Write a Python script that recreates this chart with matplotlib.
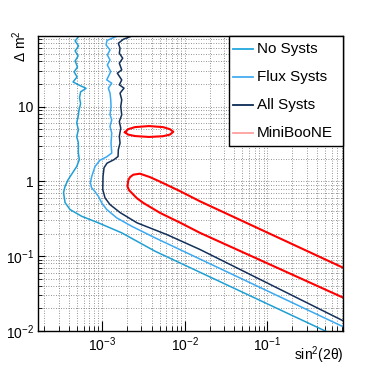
import matplotlib
matplotlib.use("Agg")
import matplotlib.pyplot as plt
from matplotlib.ticker import LogLocator, FuncFormatter, NullFormatter
from matplotlib.patches import Rectangle
import numpy as np

plt.rcParams['font.family'] = ['Liberation Sans', 'DejaVu Sans']
plt.rcParams['mathtext.fontset'] = 'custom'
plt.rcParams['mathtext.rm'] = 'Liberation Sans'
plt.rcParams['mathtext.it'] = 'Liberation Sans:italic'

# sensitivity contours (sin^2 2theta, dm^2)
nosys_x = [5.27e-4, 4.72e-4, 5.20e-4, 4.72e-4, 5.13e-4, 4.72e-4, 5.05e-4, 4.59e-4, 4.99e-4, 4.46e-4,
           5.34e-4, 6.41e-4, 5.50e-4, 5.34e-4, 5.50e-4, 5.27e-4, 5.13e-4, 4.94e-4, 5.17e-4, 4.94e-4,
           5.17e-4, 5.17e-4, 5.31e-4, 4.94e-4, 4.34e-4, 3.88e-4, 3.57e-4, 3.42e-4, 3.57e-4, 4.10e-4,
           5.68e-4, 9.02e-4, 1.73e-3, 4.37e-3, 0.457, 0.789]
nosys_y = [87.7, 75.2, 64.4, 55.3, 47.4, 40.6, 33.8, 29.0, 24.9, 21.3,
           19.2, 17.5, 15.7, 13.1, 10.9, 9.04, 7.29, 6.06, 4.89, 3.95,
           3.28, 2.41, 1.95, 1.58, 1.27, 1.05, 0.858, 0.707, 0.520, 0.420,
           0.341, 0.279, 0.205, 0.1166, 0.0105, 0.00794]

flux_x = [1.745e-3, 1.149e-3, 1.118e-3, 1.249e-3, 1.159e-3, 1.249e-3, 1.159e-3, 1.274e-3, 1.140e-3, 1.310e-3,
          1.192e-3, 1.249e-3, 1.274e-3, 1.285e-3, 1.249e-3, 1.310e-3, 1.249e-3, 1.310e-3, 1.285e-3, 1.310e-3,
          1.140e-3, 9.46e-4, 8.23e-4, 7.51e-4, 7.22e-4, 7.46e-4, 8.23e-4, 9.07e-4, 9.92e-4, 1.140e-3,
          1.506e-3, 2.286e-3, 4.37e-3, 0.791, 0.998]
flux_y = [93.2, 76.4, 66.5, 57.0, 48.9, 41.9, 35.9, 29.3, 22.7, 20.5,
          17.6, 15.1, 12.3, 10.0, 7.75, 6.65, 5.41, 4.42, 3.25, 2.39,
          2.13, 1.92, 1.58, 1.166, 0.961, 0.824, 0.729, 0.625, 0.515, 0.420,
          0.325, 0.251, 0.176, 0.01167, 0.01035]

all_x = [2.577e-3, 1.810e-3, 1.575e-3, 1.651e-3, 1.619e-3, 1.779e-3, 1.619e-3, 1.731e-3, 1.531e-3, 1.731e-3,
         1.619e-3, 1.845e-3, 1.651e-3, 1.731e-3, 1.684e-3, 1.731e-3, 1.619e-3, 1.684e-3, 1.619e-3, 1.651e-3,
         1.575e-3, 1.562e-3, 1.397e-3, 1.149e-3, 1.057e-3, 1.028e-3, 1.020e-3, 1.087e-3, 1.249e-3, 1.651e-3,
         2.650e-3, 6.06e-3, 1.531e-2, 0.791, 0.998]
all_y = [91.8, 79.2, 70.0, 60.1, 51.5, 44.2, 37.9, 30.9, 27.9, 22.7,
         19.5, 17.6, 15.1, 12.3, 10.0, 7.75, 6.31, 5.15, 3.98, 3.25,
         2.65, 2.15, 1.95, 1.75, 1.52, 1.166, 0.775, 0.601, 0.489, 0.383,
         0.279, 0.1946, 0.1228, 0.01402, 0.01228]

# MiniBooNE allowed regions
mb_x = [0.997, 0.828, 1.531e-2, 8.77e-3, 5.03e-3, 3.81e-3, 2.88e-3, 2.39e-3, 2.18e-3, 2.08e-3,
        2.03e-3, 2.12e-3, 2.286e-3, 2.65e-3, 3.16e-3, 5.03e-3, 8.77e-3, 1.531e-2, 0.828, 0.997]
mb_y = [0.0637, 0.0700, 0.541, 0.740, 0.991, 1.138, 1.266, 1.228, 1.138, 1.038,
        0.858, 0.763, 0.700, 0.593, 0.515, 0.379, 0.281, 0.205, 0.0279, 0.0254]

island_x = [1.897e-3, 2.063e-3, 2.506e-3, 3.70e-3, 5.47e-3, 6.64e-3, 7.28e-3, 6.64e-3, 5.47e-3, 3.70e-3,
            2.506e-3, 2.063e-3, 1.897e-3]
island_y = [4.53, 4.97, 5.31, 5.48, 5.31, 4.97, 4.60, 4.22, 4.01, 3.92, 4.03, 4.22, 4.53]

labels = ["No Systs", "Flux Systs", "All Systs", "MiniBooNE"]
colors = ["#1f9fd5", "#3aa9f2", "#12305a", "#ff0000"]
legend_colors = ["#22a8dc", "#44aef0", "#0c2a55", "#ff9f9f"]

fig = plt.figure(figsize=(3.82, 3.67), dpi=100)
ax = fig.add_axes([0.0995, 0.0981, 0.7992, 0.8038])
ax.set_xscale('log')
ax.set_yscale('log')
ax.set_xlim(1.68e-4, 0.83)
ax.set_ylim(0.01, 87.6)

ax.plot(nosys_x, nosys_y, color=colors[0], lw=1.1)
ax.plot(flux_x, flux_y, color=colors[1], lw=1.1)
ax.plot(all_x, all_y, color=colors[2], lw=1.1)
ax.plot(mb_x, mb_y, color=colors[3], lw=1.5)
ax.plot(island_x, island_y, color=colors[3], lw=1.5)


def root_fmt(v, pos):
    e = int(round(np.log10(v)))
    if e == 0:
        return "1"
    if e == 1:
        return "10"
    return r"$10^{%d}$" % e


for axis in (ax.xaxis, ax.yaxis):
    axis.set_major_locator(LogLocator(base=10))
    axis.set_minor_locator(LogLocator(base=10, subs=np.arange(2, 10)))
    axis.set_major_formatter(FuncFormatter(root_fmt))
    axis.set_minor_formatter(NullFormatter())

ax.grid(which='both', linestyle=(0, (1, 2)), color='#707070', linewidth=0.6)
ax.tick_params(which='both', direction='in', top=False, right=False, labelsize=10, pad=3)
ax.tick_params(axis='x', which='major', length=7)
ax.tick_params(axis='x', which='minor', length=3.5)
ax.tick_params(axis='y', which='major', length=5)
ax.tick_params(axis='y', which='minor', length=3)
for s in ax.spines.values():
    s.set_linewidth(1.0)

ax.set_xlabel(r"sin$^{2}$(2θ)", loc='right', fontsize=10)
ax.xaxis.set_label_coords(1.0, -0.045)
ax.set_ylabel(r"Δ m$^{2}$", loc='top', fontsize=10)
ax.yaxis.set_label_coords(-0.03, 1.02)

# legend box
ax.add_patch(Rectangle((0.626, 0.627), 0.374, 0.373, transform=ax.transAxes,
                       facecolor='white', edgecolor='black', lw=1.0, zorder=5, clip_on=False))
ys = [0.957, 0.862, 0.766, 0.670]
for lab, c, y in zip(labels, legend_colors, ys):
    ax.plot([0.639, 0.705], [y, y], transform=ax.transAxes, color=c, lw=1.3, zorder=6, clip_on=False)
    ax.text(0.718, y, lab, transform=ax.transAxes, fontsize=11, va='center', ha='left', zorder=6)

fig.savefig("out.png", dpi=100)
